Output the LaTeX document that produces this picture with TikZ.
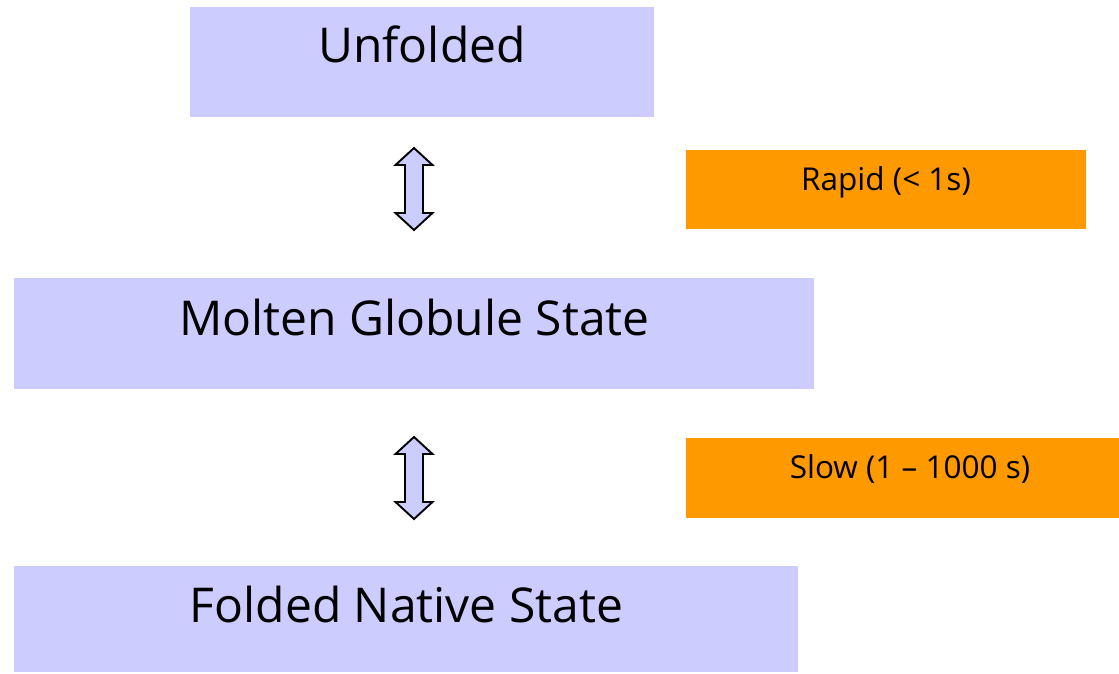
\documentclass[tikz,border=0pt]{standalone}
\usepackage{fontspec}
\setmainfont{Open Sans}
\definecolor{lav}{HTML}{CCCCFF}
\definecolor{org}{HTML}{FF9900}
\begin{document}
\begin{tikzpicture}[x=1pt,y=-1pt,
  lavbox/.style={fill=lav, draw=none, inner sep=0pt},
  orgbox/.style={fill=org, draw=none, inner sep=0pt},
  bigtxt/.style={anchor=base, inner sep=0pt, font=\fontsize{48}{56}\selectfont},
  smalltxt/.style={anchor=base, inner sep=0pt, font=\fontsize{31.5}{38}\selectfont},
  dblarrow/.pic={\draw[fill=lav, line width=1.9pt, line join=miter]
    (0,-41) -- (18.5,-24) -- (9,-24) -- (9,24) -- (18.5,24) -- (0,41)
    -- (-18.5,24) -- (-9,24) -- (-9,-24) -- (-18.5,-24) -- cycle;}]
\useasboundingbox (0,0) rectangle (1119,673);
% boxes
\node[lavbox, minimum width=464pt, minimum height=110pt] (unf) at (422,62) {};
\node[lavbox, minimum width=800pt, minimum height=111pt] (mol) at (414,333.5) {};
\node[lavbox, minimum width=784pt, minimum height=106pt] (fol) at (406,619) {};
\node[orgbox, minimum width=400pt, minimum height=79pt] (rap) at (886,189.5) {};
\node[orgbox, minimum width=433pt, minimum height=80pt] (slo) at (902.5,478) {};
% texts
\node[bigtxt] (unft) at (422,62) {Unfolded};
\node[bigtxt] (molt) at (414.5,335) {Molten Globule State};
\node[bigtxt] (folt) at (406.5,622) {Folded Native State};
\node[smalltxt] (rapt) at (886,190) {Rapid (< 1s)};
\node[smalltxt] (slot) at (910,478) {Slow (1 – 1000 s)};
% arrows
\coordinate (a1) at (414,189);
\coordinate (a2) at (414,478);
\pic at (a1) {dblarrow};
\pic at (a2) {dblarrow};
\end{tikzpicture}
\end{document}
